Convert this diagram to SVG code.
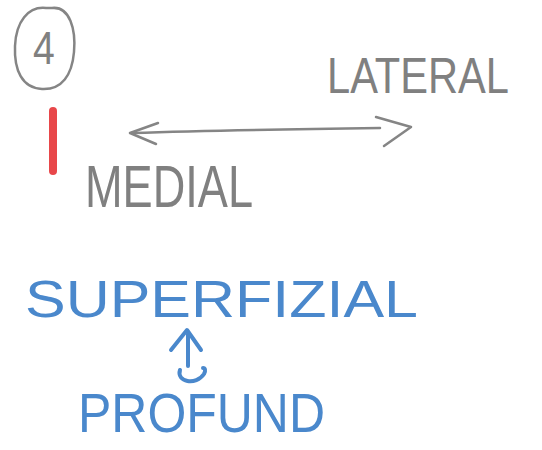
<svg xmlns="http://www.w3.org/2000/svg" width="542" height="450" viewBox="0 0 542 450">
<style>
.pencil{fill:#808080;font-family:"Liberation Sans",Arial,sans-serif;font-weight:normal}
.ink{fill:#4a88cc;font-family:"Liberation Sans",Arial,sans-serif;font-weight:normal}
.pl{fill:none;stroke:#858585;stroke-width:2.5;stroke-linecap:round;stroke-linejoin:round}
.il{fill:none;stroke:#4a88cc;stroke-width:4;stroke-linecap:round;stroke-linejoin:round}
</style>
<rect width="542" height="450" fill="#ffffff"/>
<g id="number">
<path class="pl" d="M52 8 C70 6 76 30 74 52 C72 75 62 90 42 89 C22 88 14 70 15 46 C16 22 28 6 46 8 Z"/>
<text class="pencil" x="44" y="64" font-size="46" text-anchor="middle" transform="translate(44 48) scale(0.85 1) translate(-44 -48)">4</text>
</g>
<g id="marker">
<rect x="49" y="107" width="8" height="68" rx="4" fill="#e8474a"/>
</g>
<g id="lateral">
<text class="pencil" x="0" y="0" font-size="41" textLength="182" lengthAdjust="spacingAndGlyphs" transform="translate(327 93) scale(1 1.24)">LATERAL</text>
</g>
<g id="medial">
<text class="pencil" x="85" y="207" font-size="60" textLength="168" lengthAdjust="spacingAndGlyphs">MEDIAL</text>
</g>
<g id="superfizial">
<text class="ink" x="25" y="317" font-size="51" textLength="393" lengthAdjust="spacingAndGlyphs">SUPERFIZIAL</text>
</g>
<g id="profund">
<text class="ink" x="78" y="432" font-size="55" textLength="247" lengthAdjust="spacingAndGlyphs">PROFUND</text>
</g>
<g id="connectors">
<path class="pl" d="M132 133 C220 130 300 129 380 128"/>
<path class="pl" d="M158 123 L130 133 L156 144"/>
<path class="pl" d="M376 117 L411 127 L384 146"/>
<path class="il" d="M188 334 L188 366"/>
<path class="il" d="M171 350 L187 330 L201 350"/>
<path class="il" d="M180 370 C176 382 196 386 204 374 C206 370 205 368 203 368"/>
</g>
</svg>
